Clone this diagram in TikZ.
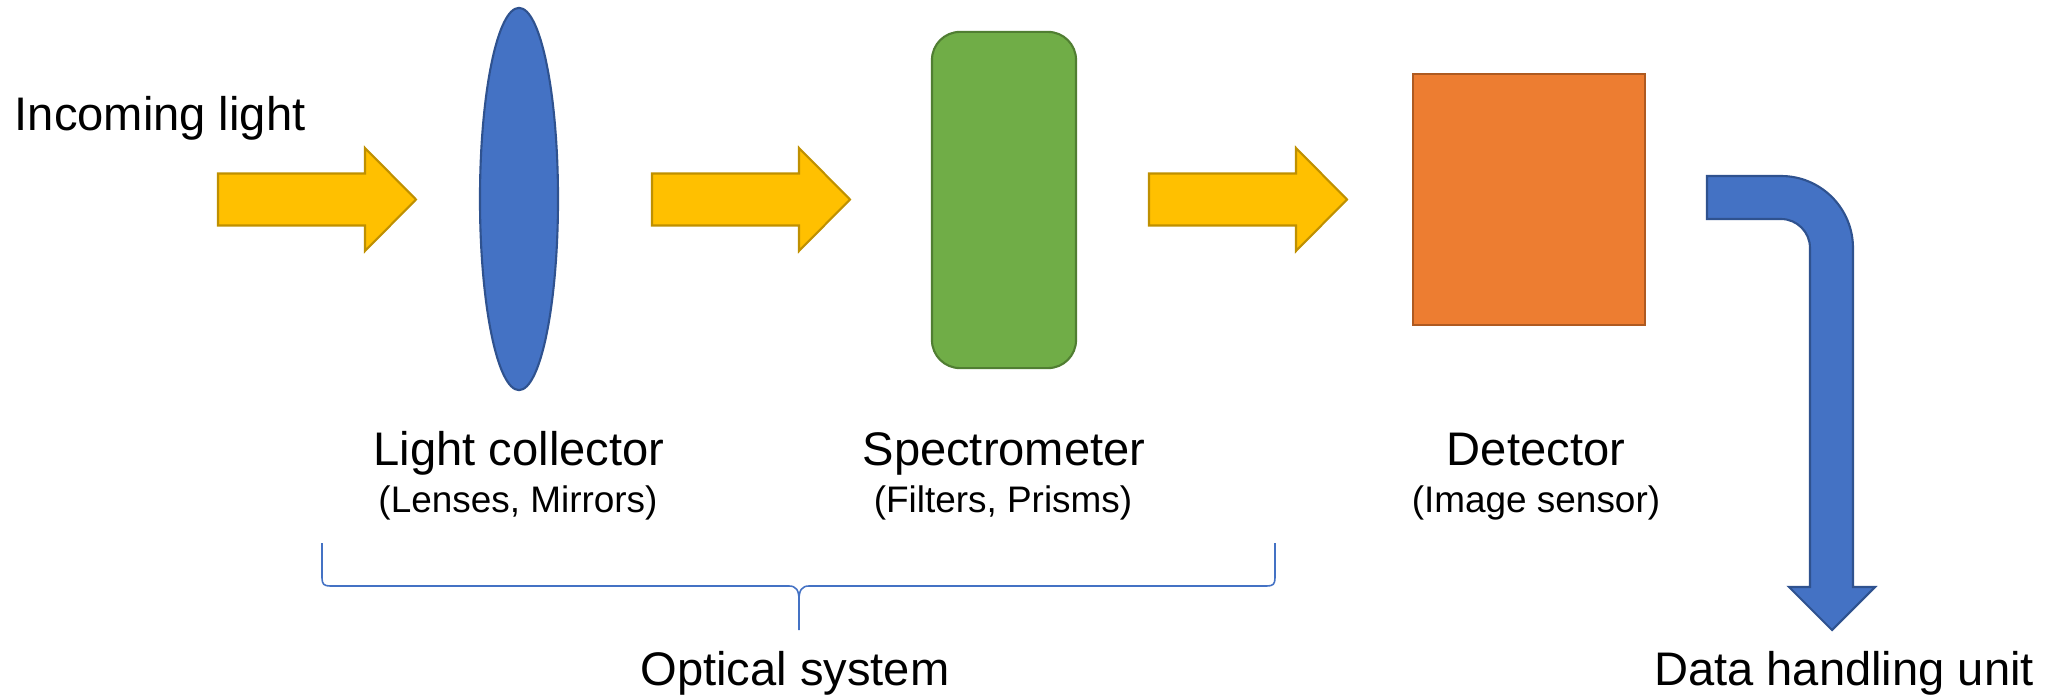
\documentclass[tikz,border=0pt]{standalone}
\usepackage{fontspec}
\setmainfont{Liberation Sans}
\usetikzlibrary{shapes.geometric}

\definecolor{gold}{HTML}{FFC000}
\definecolor{golddark}{HTML}{BF9000}
\definecolor{lensblue}{HTML}{4472C4}
\definecolor{lensbluedark}{HTML}{2F528F}
\definecolor{specgreen}{HTML}{70AD47}
\definecolor{specgreendark}{HTML}{507E32}
\definecolor{detorange}{HTML}{ED7D31}
\definecolor{detorangedark}{HTML}{AE5A21}

\tikzset{
  lightarrow/.style={fill=gold, draw=golddark, line width=0.6pt, line join=miter},
  part/.style={line width=0.6pt, inner sep=0pt},
  title/.style={font=\fontsize{13.4}{16}\selectfont, anchor=base, inner sep=0pt},
  sub/.style={font=\fontsize{10.5}{13}\selectfont, anchor=base, inner sep=0pt},
  brace/.style={draw=lensblue, line width=0.45pt},
  blockarrow/.pic={
    \draw[lightarrow] (0,-26) -- (147,-26) -- (147,-51.5) -- (198,0)
      -- (147,51.5) -- (147,26) -- (0,26) -- cycle;
  }
}

\begin{document}
\begin{tikzpicture}[x=0.01cm, y=-0.01cm]
  \useasboundingbox (0,0) rectangle (2056,697);

  % optical components
  \node[part, ellipse, fill=lensblue, draw=lensbluedark,
        minimum width=0.78cm, minimum height=3.82cm] (lens) at (519,199) {};
  \node[part, rectangle, rounded corners=0.28cm, fill=specgreen, draw=specgreendark,
        minimum width=1.44cm, minimum height=3.36cm] (spec) at (1004,200) {};
  \node[part, rectangle, fill=detorange, draw=detorangedark,
        minimum width=2.32cm, minimum height=2.51cm] (det) at (1529,199.5) {};

  % light path arrows
  \coordinate (beam1) at (218,199.5);
  \coordinate (beam2) at (652,199.5);
  \coordinate (beam3) at (1149,199.5);
  \pic at (beam1) {blockarrow};
  \pic at (beam2) {blockarrow};
  \pic at (beam3) {blockarrow};

  % bent output arrow to the data handling unit
  \draw[part, fill=lensblue, draw=lensbluedark, line join=miter]
    (1707,176) -- (1781,176) .. controls (1820.8,176) and (1853,208.2) .. (1853,248)
    -- (1853,587) -- (1875,587) -- (1832,630) -- (1789,587) -- (1810,587)
    -- (1810,248) .. controls (1810,232) and (1797,219) .. (1781,219)
    -- (1707,219) -- cycle;

  % labels
  \node[title, anchor=base west] (incoming) at (14,130) {Incoming light};
  \node[title] (lenstitle) at (519,465) {Light collector};
  \node[sub]   (lenssub)   at (518,512) {(Lenses, Mirrors)};
  \node[title] (spectitle) at (1004,465) {Spectrometer};
  \node[sub]   (specsub)   at (1003,512) {(Filters, Prisms)};
  \node[title] (dettitle)  at (1536,465) {Detector};
  \node[sub]   (detsub)    at (1536,512) {(Image sensor)};
  \node[title] (optical)   at (795,685) {Optical system};
  \node[title] (dataunit)  at (1844,685) {Data handling unit};

  % brace grouping the optical system
  \draw[brace] (322,543) -- (322,578) .. controls (322,584) and (324,586) .. (330,586)
    -- (789,586) .. controls (796,586) and (799,590) .. (799,600) -- (799,630);
  \draw[brace] (1275,543) -- (1275,578) .. controls (1275,584) and (1273,586) .. (1267,586)
    -- (809,586) .. controls (802,586) and (799,590) .. (799,600);
\end{tikzpicture}
\end{document}
